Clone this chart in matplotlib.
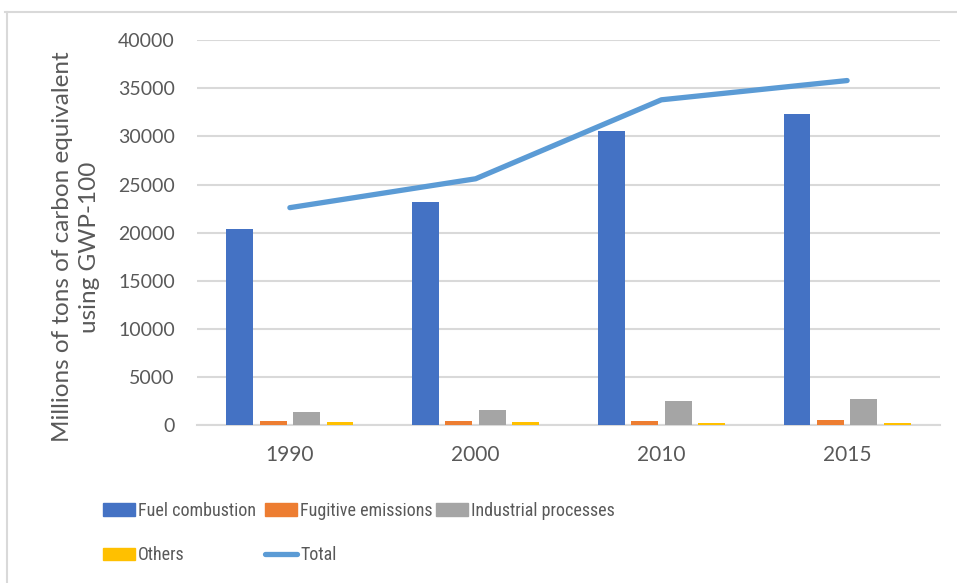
import numpy as np
import matplotlib
matplotlib.use('Agg')
import matplotlib.pyplot as plt
from matplotlib.lines import Line2D
from matplotlib.patches import Patch

plt.rcParams['font.family'] = ['Lato', 'DejaVu Sans']

# data
years = ['1990', '2000', '2010', '2015']
fuel = [20400, 23200, 30600, 32300]
fugitive = [400, 400, 420, 520]
industrial = [1350, 1600, 2550, 2700]
others = [380, 380, 250, 250]
total = [22600, 25600, 33800, 35800]
yticks = [0, 5000, 10000, 15000, 20000, 25000, 30000, 35000, 40000]

# colours (Office palette)
c_fuel = '#4472C4'
c_fug = '#ED7D31'
c_ind = '#A5A5A5'
c_oth = '#FFC000'
c_tot = '#5B9BD5'
c_grid = '#D9D9D9'
c_text = '#595959'

W, H = 957, 583
fig = plt.figure(figsize=(W / 100, H / 100), dpi=100)
ax = fig.add_axes([197 / W, 1 - 425.3 / H, (940 - 197) / W, 385.2 / H])

x = np.arange(len(years))
bw = 0.145
step = 0.18
series = [(fuel, c_fuel), (fugitive, c_fug), (industrial, c_ind), (others, c_oth)]
for i, (vals, col) in enumerate(series):
    ax.bar(x + (i - 1.5) * step, vals, width=bw, color=col, zorder=3)

ax.plot(x, total, color=c_tot, lw=3.8, solid_capstyle='round', zorder=4)

ax.set_xlim(-0.5, 3.5)
ax.set_ylim(0, 40000)
ax.set_xticks(x)
ax.set_xticklabels(years)
ax.set_yticks(yticks)
ax.set_yticklabels([str(v) for v in yticks])
ax.tick_params(axis='both', length=0, colors=c_text)
ax.tick_params(axis='y', labelsize=14, pad=16)
ax.tick_params(axis='x', labelsize=15, pad=14)
ax.yaxis.grid(True, color=c_grid, lw=1.5, zorder=0)
for s in ['top', 'right', 'left']:
    ax.spines[s].set_visible(False)
ax.spines['bottom'].set_color(c_grid)
ax.spines['bottom'].set_linewidth(1.5)

fig.text(76 / W, 1 - 247 / H,
         'Millions of tons of carbon equivalent\nusing GWP-100',
         rotation=90, ha='center', va='center', multialignment='center',
         fontsize=17.5, color=c_text, linespacing=1.3)

# legend: three columns placed at fixed positions, narrow face if one is installed
legend_font = {'family': ['Liberation Sans Narrow', 'DejaVu Sans Condensed',
                          'Roboto Condensed', 'Lato'], 'size': 13}
legend_cols = [
    ([Patch(color=c_fuel), Patch(color=c_oth)], ['Fuel combustion', 'Others'], 103),
    ([Patch(color=c_fug), Line2D([], [], color=c_tot, lw=3.8, solid_capstyle='round')],
     ['Fugitive emissions', 'Total'], 265),
    ([Patch(color=c_ind)], ['Industrial processes'], 436),
]
for hs, ls, xpix in legend_cols:
    leg = fig.legend(hs, ls, loc='upper left', bbox_to_anchor=(xpix / W, 1 - 502 / H),
                     frameon=False, borderpad=0, borderaxespad=0,
                     handlelength=1.75, handleheight=0.7, handletextpad=0.2,
                     labelspacing=1.45, prop=legend_font)
    for t in leg.get_texts():
        t.set_color(c_text)

# outer chart border
fig.add_artist(Line2D([5 / W, 1], [1 - 12 / H, 1 - 12 / H], color=c_grid, lw=1.5))
fig.add_artist(Line2D([7 / W, 7 / W], [1 - 12 / H, 0], color=c_grid, lw=1.5))

fig.savefig('out.png', dpi=100)
